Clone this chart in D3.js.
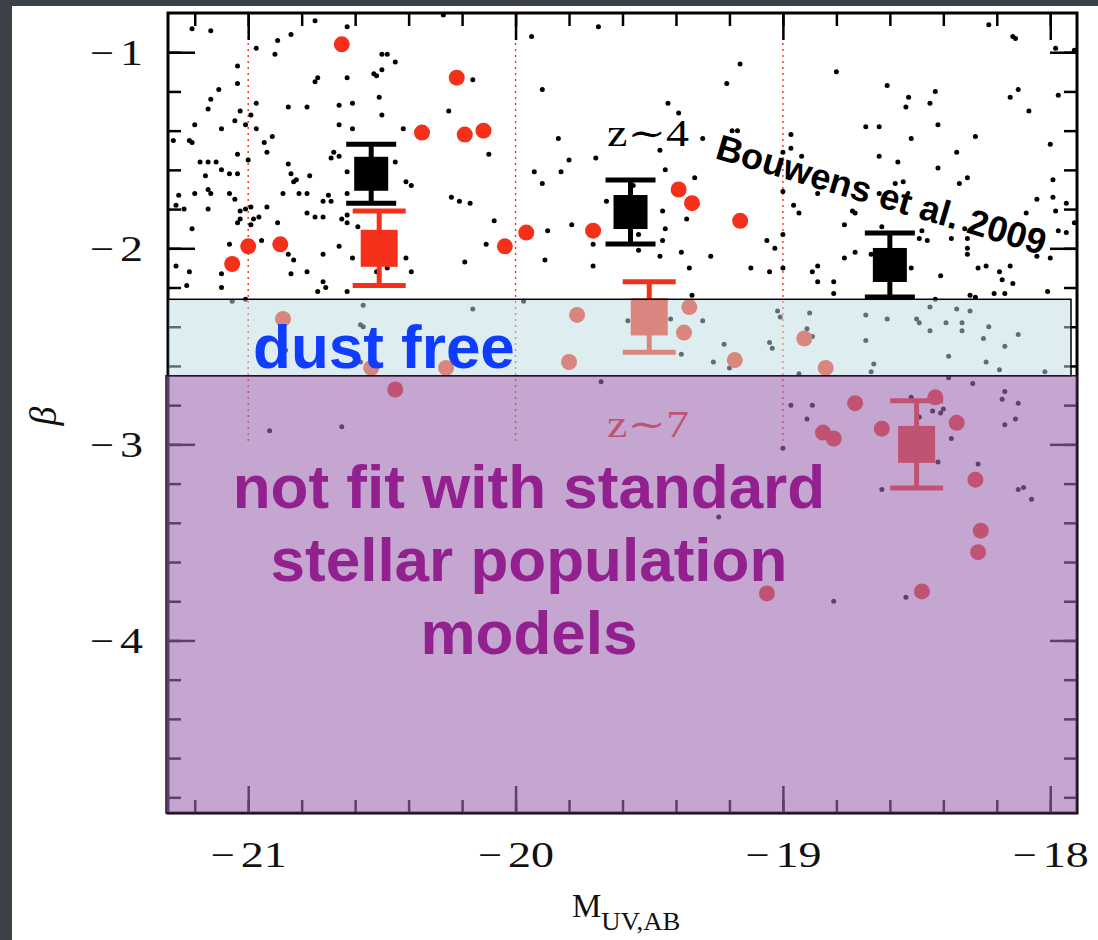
<!DOCTYPE html>
<html>
<head>
<meta charset="utf-8">
<script src="https://cdn.jsdelivr.net/npm/d3@7"></script>
<style>
  body { margin: 0; background: #3c4147; }
  svg { display: block; }
</style>
</head>
<body>
<svg id="chart" width="1098" height="940"></svg>
<script>
// axis ticks
const xMajor = [-21, -20, -19, -18];
const yMajor = [-1, -2, -3, -4];
const guideLines = [-21, -20, -19];

// z~4 individual galaxies (Bouwens et al. 2009), [M_UV, beta]
const z4Dots = [
  [-21.21,-0.88],[-21.14,-0.89],[-20.97,-0.98],[-20.89,-0.94],[-20.84,-0.91],[-20.90,-1.01],[-20.75,-0.84],[-20.63,-0.87],
  [-21.04,-1.07],[-21.04,-1.16],[-21.11,-1.19],[-20.75,-1.15],[-20.74,-1.13],[-20.63,-1.13],[-20.53,-1.11],[-20.52,-1.12],
  [-20.50,-1.09],[-20.50,-1.01],[-20.48,-1.01],[-20.45,-1.05],[-21.14,-1.24],[-21.15,-1.29],[-20.97,-1.26],[-20.85,-1.28],
  [-20.78,-1.28],[-20.66,-1.27],[-20.61,-1.26],[-20.51,-1.23],[-20.50,-1.32],[-21.03,-1.30],[-20.99,-1.32],[-21.05,-1.35],
  [-21.01,-1.37],[-20.97,-1.39],[-21.10,-1.39],[-21.20,-1.37],[-20.66,-1.37],[-20.61,-1.39],[-21.28,-1.45],[-21.22,-1.45],
  [-21.21,-1.46],[-20.91,-1.43],[-20.94,-1.46],[-20.93,-1.51],[-21.04,-1.52],[-21.00,-1.55],[-20.68,-1.51],[-20.69,-1.54],
  [-20.66,-1.53],[-21.18,-1.56],[-21.15,-1.56],[-21.12,-1.56],[-21.10,-1.60],[-21.16,-1.63],[-21.07,-1.62],[-21.04,-1.62],
  [-20.85,-1.57],[-20.84,-1.62],[-20.82,-1.65],[-20.83,-1.66],[-20.77,-1.63],[-20.63,-1.61],[-20.45,-1.56],[-21.26,-1.73],
  [-21.20,-1.72],[-21.15,-1.70],[-21.14,-1.72],[-21.07,-1.72],[-21.05,-1.75],[-20.87,-1.72],[-20.81,-1.72],[-20.78,-1.72],
  [-20.72,-1.76],[-20.69,-1.76],[-20.70,-1.73],[-20.63,-1.72],[-21.27,-1.78],[-21.24,-1.80],[-21.15,-1.80],[-21.03,-1.81],
  [-21.01,-1.80],[-20.99,-1.79],[-21.03,-1.85],[-20.98,-1.85],[-20.96,-1.84],[-20.93,-1.79],[-20.78,-1.82],[-20.75,-1.84],
  [-20.72,-1.84],[-20.65,-1.85],[-20.63,-1.83],[-20.63,-1.87],[-20.59,-1.89],[-21.21,-1.90],[-21.04,-1.87],[-20.99,-1.88],
  [-20.89,-1.87],[-21.07,-1.98],[-20.95,-1.96],[-20.85,-2.03],[-20.83,-2.06],[-20.72,-2.03],[-20.66,-1.99],[-20.61,-2.05],
  [-21.27,-2.09],[-21.22,-2.12],[-21.10,-2.13],[-20.84,-2.13],[-20.78,-2.12],[-20.72,-2.17],[-20.71,-2.20],[-20.74,-2.22],
  [-20.63,-2.22],[-21.23,-2.19],[-21.10,-2.20],[-20.52,-2.12],[-20.48,-2.10],
  [-20.27,-0.81],[-19.69,-0.87],[-19.94,-0.92],[-20.16,-1.14],[-20.25,-1.30],[-20.42,-1.39],[-20.10,-1.52],[-19.90,-1.19],
  [-19.43,-1.26],[-19.39,-1.31],[-19.84,-1.44],[-19.30,-1.44],[-19.46,-1.50],[-19.70,-1.54],[-19.80,-1.55],[-19.83,-1.61],
  [-19.93,-1.61],[-19.90,-1.67],[-19.44,-1.60],[-19.33,-1.64],[-19.56,-1.68],[-19.66,-1.76],[-20.41,-1.66],[-20.39,-1.68],
  [-20.24,-1.74],[-20.21,-1.76],[-20.17,-1.77],[-20.08,-1.86],[-19.45,-1.81],[-19.36,-1.85],[-19.44,-1.90],[-19.88,-1.91],
  [-19.79,-1.88],[-19.54,-1.93],[-19.71,-1.98],[-19.45,-1.96],[-19.54,-2.01],[-20.11,-1.98],[-19.38,-2.02],[-19.46,-2.04],
  [-20.19,-2.07],[-19.89,-2.06],[-20.41,-2.05],[-20.39,-2.12],[-19.71,-2.09],[-19.35,-2.10],[-19.34,-2.24],
  [-19.16,-1.06],[-19.21,-1.16],[-18.80,-1.10],[-18.61,-1.17],[-18.53,-1.23],[-18.54,-1.28],[-18.45,-1.26],[-18.43,-1.20],
  [-18.23,-0.86],[-18.14,-0.92],[-18.13,-0.93],[-17.98,-0.98],[-17.91,-0.99],[-18.12,-1.19],[-18.15,-1.23],[-18.08,-1.30],
  [-17.97,-1.22],[-18.69,-1.38],[-18.64,-1.38],[-18.42,-1.37],[-18.52,-1.44],[-18.28,-1.43],[-18.00,-1.47],[-19.19,-1.40],
  [-19.17,-1.40],[-18.97,-1.42],[-18.97,-1.49],[-19.00,-1.51],[-18.93,-1.53],[-18.64,-1.53],[-18.57,-1.56],[-18.42,-1.59],
  [-18.35,-1.51],[-18.31,-1.64],[-18.34,-1.67],[-17.99,-1.65],[-17.99,-1.74],[-18.05,-1.75],[-18.58,-1.67],[-18.55,-1.66],
  [-18.64,-1.72],[-18.87,-1.72],[-19.00,-1.71],[-18.96,-1.78],[-18.94,-1.82],[-18.74,-1.81],[-18.73,-1.82],[-18.77,-1.88],
  [-18.63,-1.89],[-18.48,-1.91],[-18.49,-1.95],[-18.46,-1.96],[-18.37,-1.95],[-18.31,-1.95],[-18.32,-1.90],[-18.09,-1.82],
  [-17.98,-1.81],[-17.97,-1.91],[-17.94,-1.92],[-17.91,-1.87],[-17.94,-1.77],[-19.27,-2.04],[-19.12,-2.10],[-19.05,-2.12],
  [-19.06,-1.96],[-19.03,-2.00],[-19.00,-1.93],[-19.00,-2.10],[-18.89,-2.12],[-18.87,-2.09],[-18.81,-2.17],[-18.87,-2.17],
  [-18.77,-2.05],[-18.73,-2.02],[-18.67,-2.03],[-18.52,-2.10],[-18.55,-2.05],[-18.41,-2.14],[-18.31,-2.00],[-18.31,-2.03],
  [-18.27,-2.10],[-18.24,-2.09],[-18.19,-2.12],[-18.18,-2.16],[-18.15,-2.09],[-18.14,-2.18],[-18.21,-2.23],[-18.17,-2.23],
  [-18.30,-2.24],[-18.28,-2.25],[-18.81,-2.23],[-18.01,-2.22],[-18.05,-2.04],[-18.00,-2.05],
  [-21.06,-2.27],[-21.01,-2.26],[-20.57,-2.29],[-20.58,-2.39],[-20.57,-2.40],[-20.86,-2.52],[-20.58,-2.58],[-20.16,-2.31],
  [-19.97,-2.27],[-19.58,-2.37],[-19.42,-2.36],[-19.30,-2.37],[-19.38,-2.54],[-19.22,-2.49],[-19.26,-2.58],[-19.20,-2.61],
  [-19.05,-2.48],[-19.04,-2.51],[-19.02,-2.32],[-19.01,-2.35],[-18.94,-2.64],[-18.90,-2.33],[-18.91,-2.41],[-18.89,-2.45],
  [-18.69,-2.34],[-18.61,-2.36],[-18.69,-2.47],[-18.66,-2.59],[-18.67,-2.63],[-18.50,-2.36],[-18.49,-2.38],[-18.45,-2.30],
  [-18.45,-2.42],[-18.43,-2.26],[-18.39,-2.38],[-18.38,-2.55],[-18.35,-2.31],[-18.33,-2.38],[-18.33,-2.42],[-18.30,-2.32],
  [-18.25,-2.46],[-18.23,-2.40],[-18.24,-2.58],[-18.17,-2.50],[-18.12,-2.44],[-18.19,-2.62],[-18.02,-2.63],
  [-20.92,-2.93],[-20.65,-2.91],[-19.68,-2.68],[-18.97,-2.80],[-19.00,-3.02],[-19.24,-3.37],[-18.89,-2.80],[-18.91,-2.87],
  [-18.52,-2.76],[-18.49,-2.86],[-18.44,-2.83],[-18.41,-2.84],[-18.40,-2.82],[-18.37,-2.97],[-18.42,-3.09],[-18.29,-2.69],
  [-18.17,-2.73],[-18.18,-2.77],[-18.12,-2.79],[-18.17,-2.90],[-18.13,-2.87],[-18.27,-3.10],[-18.63,-3.23],[-18.12,-3.23],
  [-18.10,-3.22],[-18.07,-3.28],[-18.38,-2.66],[-18.81,-3.80],[-18.54,-3.78]
];

// z~7 individual galaxies, [M_UV, beta]
const z7Dots = [
  [-20.65,-0.96],[-21.00,-1.99],[-20.88,-1.98],[-21.06,-2.08],[-20.22,-1.13],[-20.35,-1.41],[-20.19,-1.42],[-20.12,-1.40],
  [-20.04,-1.99],[-19.96,-1.92],[-19.71,-1.91],[-19.39,-1.70],[-19.34,-1.77],[-19.16,-1.86],[-20.87,-2.36],[-20.54,-2.61],
  [-20.45,-2.72],[-20.26,-2.61],[-19.77,-2.34],[-19.80,-2.58],[-19.35,-2.30],[-19.37,-2.43],[-19.18,-2.57],[-18.92,-2.46],
  [-18.84,-2.61],[-18.73,-2.79],[-18.85,-2.94],[-18.81,-2.97],[-18.63,-2.92],[-18.43,-2.76],[-18.35,-2.89],[-18.28,-3.18],
  [-18.26,-3.44],[-18.27,-3.55],[-19.06,-3.76],[-18.48,-3.75]
];

// binned means with errors
const z4Mag = [-20.54, -19.57, -18.60];
const z4Beta = [-1.62, -1.815, -2.085];
const z4Err = [0.15, 0.163, 0.163];
const z7Mag = [-20.51, -19.50, -18.50];
const z7Beta = [-2.00, -2.35, -3.00];
const z7Err = [0.19, 0.18, 0.223];

// shaded regions (beta ranges)
const dustFreeBand = [-2.26, -2.65];
const unfitBand = [-2.65, -4.88];

const svg = d3.select('#chart');
const x = d3.scaleLinear().domain([-21.3, -17.9]).range([168, 1077]);
const y = d3.scaleLinear().domain([-0.8, -4.88]).range([13, 813]);

const red = '#f4301a';
const serif = '"Liberation Serif", "DejaVu Serif", serif';
const sans = '"Liberation Sans", Arial, sans-serif';

// slide card
svg.append('rect').attr('x', 12).attr('y', 6).attr('width', 1086).attr('height', 934).attr('fill', '#fff');

// dotted guides
svg.append('g').selectAll('line')
    .data(guideLines)
    .enter()
    .append('line')
    .attr('x1', (d) => x(d)).attr('x2', (d) => x(d))
    .attr('y1', y(-0.8)).attr('y2', y(-3.0))
    .attr('stroke', red)
    .attr('stroke-width', 1.4)
    .attr('stroke-dasharray', '2,4');

// black dots
svg.append('g').selectAll('circle')
    .data(z4Dots)
    .enter()
    .append('circle')
    .attr('cx', (d) => x(d[0]))
    .attr('cy', (d) => y(d[1]))
    .attr('r', 2.5)
    .attr('fill', '#000');

// red circles
svg.append('g').selectAll('circle')
    .data(z7Dots)
    .enter()
    .append('circle')
    .attr('cx', (d) => x(d[0]))
    .attr('cy', (d) => y(d[1]))
    .attr('r', 8)
    .attr('fill', red);

// binned points with error bars
const drawBins = (mags, betas, errs, color, box, cap) => {
    const g = svg.append('g').attr('fill', color).attr('stroke', color);
    mags.forEach((m, i) => {
        const cx = x(m);
        const top = y(betas[i] + errs[i]);
        const bot = y(betas[i] - errs[i]);
        g.append('line').attr('x1', cx).attr('x2', cx).attr('y1', top).attr('y2', bot).attr('stroke-width', 5);
        g.append('line').attr('x1', cx - cap / 2).attr('x2', cx + cap / 2).attr('y1', top).attr('y2', top).attr('stroke-width', 5);
        g.append('line').attr('x1', cx - cap / 2).attr('x2', cx + cap / 2).attr('y1', bot).attr('y2', bot).attr('stroke-width', 5);
        g.append('rect')
            .attr('x', cx - box / 2).attr('y', y(betas[i]) - box / 2)
            .attr('width', box).attr('height', box)
            .attr('stroke', 'none');
    });
};
drawBins(z4Mag, z4Beta, z4Err, '#000', 34, 50);
drawBins(z7Mag, z7Beta, z7Err, red, 37, 53);

// labels inside plot
svg.append('text')
    .attr('x', x(-19.658)).attr('y', y(-1.478))
    .attr('font-family', serif).attr('font-size', 37)
    .attr('textLength', 82).attr('lengthAdjust', 'spacingAndGlyphs')
    .text('z\u223C4');
svg.append('text')
    .attr('x', x(-19.658)).attr('y', y(-2.962))
    .attr('font-family', serif).attr('font-size', 37)
    .attr('textLength', 82).attr('lengthAdjust', 'spacingAndGlyphs')
    .attr('fill', red)
    .text('z\u223C7');
svg.append('text')
    .attr('transform', `translate(${x(-19.258)},${y(-1.539)}) rotate(16.5)`)
    .attr('font-family', sans).attr('font-weight', 'bold').attr('font-size', 36)
    .text('Bouwens et al. 2009');

// axes: ticks inside the frame on all four sides
const xMinor = d3.range(-21.2, -17.95, 0.2).map((v) => +v.toFixed(1));
const yMinor = d3.range(-1.0, -4.85, -0.2).map((v) => +v.toFixed(1));
const axisG = svg.append('g');
const addAxis = (axis, tx, ty) => {
    const g = axisG.append('g').attr('transform', `translate(${tx},${ty})`).call(axis);
    g.select('.domain').remove();
    g.selectAll('line').attr('stroke', '#000').attr('stroke-width', 2.5);
    return g;
};
const noLabel = () => '';
addAxis(d3.axisBottom(x).tickValues(xMinor).tickSize(-13).tickFormat(noLabel), 0, 813);
addAxis(d3.axisTop(x).tickValues(xMinor).tickSize(-13).tickFormat(noLabel), 0, 13);
addAxis(d3.axisLeft(y).tickValues(yMinor).tickSize(-13).tickFormat(noLabel), 168, 0);
addAxis(d3.axisRight(y).tickValues(yMinor).tickSize(-13).tickFormat(noLabel), 1077, 0);
addAxis(d3.axisTop(x).tickValues(xMajor).tickSize(-27).tickFormat(noLabel), 0, 13);
addAxis(d3.axisRight(y).tickValues(yMajor).tickSize(-27).tickFormat(noLabel), 1077, 0);
const xAx = addAxis(d3.axisBottom(x).tickValues(xMajor).tickSize(-27).tickFormat(noLabel), 0, 813);
const yAx = addAxis(d3.axisLeft(y).tickValues(yMajor).tickSize(-27).tickFormat(noLabel), 168, 0);

// TeX-like labels: a long minus sign, then the digits (two stretched texts per tick)
const minusW = 24, gap = 6, digitW = 23;
const texLabel = (tick, d, left, baseline) => {
    tick.select('text').remove();
    const digits = String(Math.abs(d));
    const common = (t) => t.attr('y', baseline)
        .attr('text-anchor', 'start')
        .attr('font-family', serif).attr('font-size', 35)
        .attr('fill', '#111')
        .attr('lengthAdjust', 'spacingAndGlyphs');
    tick.append('text').call(common).attr('x', left).attr('textLength', minusW).text('\u2212');
    tick.append('text').call(common).attr('x', left + minusW + gap)
        .attr('textLength', digits.length * digitW).text(digits);
};
xAx.selectAll('.tick').each(function (d) {
    const w = minusW + gap + String(Math.abs(d)).length * digitW;
    texLabel(d3.select(this), d, -w / 2, 54);
});
yAx.selectAll('.tick').each(function (d) {
    const w = minusW + gap + String(Math.abs(d)).length * digitW;
    texLabel(d3.select(this), d, -25 - w, 12);
});

svg.append('rect')
    .attr('x', 168).attr('y', 13).attr('width', 909).attr('height', 800)
    .attr('fill', 'none').attr('stroke', '#000').attr('stroke-width', 3);

// shaded overlays
svg.append('rect')
    .attr('x', x(-21.3)).attr('y', y(dustFreeBand[0]))
    .attr('width', 903).attr('height', y(dustFreeBand[1]) - y(dustFreeBand[0]))
    .attr('fill', 'rgb(189,221,225)').attr('fill-opacity', 0.5)
    .attr('stroke', '#000').attr('stroke-width', 1.5);
svg.append('rect')
    .attr('x', 166).attr('y', y(unfitBand[0]))
    .attr('width', 911).attr('height', y(unfitBand[1]) - y(unfitBand[0]))
    .attr('fill', 'rgb(157,107,177)').attr('fill-opacity', 0.6)
    .attr('stroke', '#2a0f2e').attr('stroke-width', 1.5);

// overlay captions
svg.append('text')
    .attr('x', x(-20.982)).attr('y', y(-2.610))
    .attr('font-family', sans).attr('font-weight', 'bold').attr('font-size', 62)
    .attr('fill', '#0f3cff')
    .text('dust free');
const unfitLines = ['not fit with standard', 'stellar population', 'models'];
const unfitY = [-3.324, -3.697, -4.069];
svg.append('g').selectAll('text')
    .data(unfitLines)
    .enter()
    .append('text')
    .attr('x', x(-19.95))
    .attr('y', (d, i) => y(unfitY[i]))
    .attr('text-anchor', 'middle')
    .attr('font-family', sans).attr('font-weight', 'bold').attr('font-size', 62)
    .attr('fill', '#92208f')
    .text((d) => d);

// axis titles
const xt = svg.append('text')
    .attr('x', 572).attr('y', 917)
    .attr('font-family', serif).attr('font-size', 33)
    .attr('fill', '#111');
xt.append('tspan').text('M');
xt.append('tspan').attr('dy', 13).attr('font-size', 26).attr('textLength', 79).attr('lengthAdjust', 'spacingAndGlyphs').text('UV,AB');

svg.append('text')
    .attr('transform', 'translate(56,416) rotate(-90)')
    .attr('text-anchor', 'middle')
    .attr('font-family', serif).attr('font-style', 'italic').attr('font-size', 38)
    .attr('fill', '#111')
    .text('\u03B2');
</script>
</body>
</html>
